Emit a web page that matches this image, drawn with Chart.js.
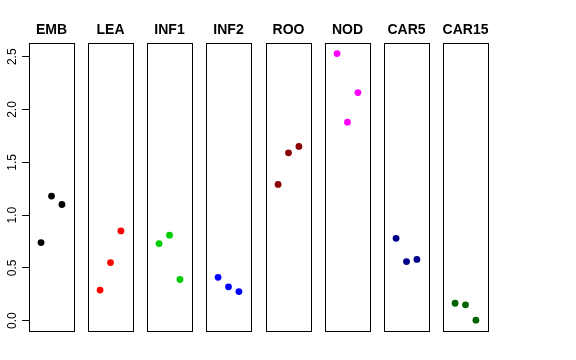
<!DOCTYPE html>
<html><head><meta charset="utf-8">
<script src="https://cdn.jsdelivr.net/npm/chart.js@4/dist/chart.umd.min.js"></script>
<style>
html,body{margin:0;padding:0;background:#fff}
#wrap{position:relative;width:576px;height:360px}
#wrap canvas{position:absolute;left:0;top:0}
</style>
</head><body><div id="wrap"></div>
<script>
// ---- data ----
const categories = ['EMB','LEA','INF1','INF2','ROO','NOD','CAR5','CAR15'];
const replicates = [1, 2, 3];
const embValues   = [0.74, 1.18, 1.10];
const leaValues   = [0.29, 0.55, 0.85];
const inf1Values  = [0.73, 0.81, 0.39];
const inf2Values  = [0.41, 0.32, 0.275];
const rooValues   = [1.29, 1.59, 1.65];
const nodValues   = [2.53, 1.88, 2.16];
const car5Values  = [0.78, 0.56, 0.58];
const car15Values = [0.165, 0.15, 0.005];
const seriesValues = [embValues, leaValues, inf1Values, inf2Values, rooValues, nodValues, car5Values, car15Values];
const yTickValues = [0, 0.5, 1, 1.5, 2, 2.5];
const yTickLabels = ['0.0', '0.5', '1.0', '1.5', '2.0', '2.5'];

// ---- styles ----
const colors = ['#000000','#FF0000','#00CD00','#0000FF','#8B0000','#FF00FF','#00008B','#006400'];
const W = 576, H = 360;
const boxTop = 43, boxBottom = 331, boxW = 45;
const firstLeft = 29, step = 59.14;
const Y_MIN = -0.098, Y_MAX = 2.63;

const decor = {
  id: 'decor',
  afterDraw(chart, args, opts) {
    const ctx = chart.ctx, a = chart.chartArea;
    ctx.save();
    ctx.strokeStyle = '#000';
    ctx.lineWidth = 1;
    ctx.strokeRect(Math.round(a.left) + 0.5, Math.round(a.top) + 0.5,
                   Math.round(a.right - a.left), Math.round(a.bottom - a.top));
    ctx.fillStyle = '#000';
    ctx.font = 'bold 14px "Liberation Sans", Arial, sans-serif';
    ctx.textAlign = 'center';
    ctx.textBaseline = 'alphabetic';
    ctx.fillText(opts.title, (a.left + a.right) / 2, 34);
    if (opts.yLabels) {
      const ys = chart.scales.y;
      ctx.font = '12px "Liberation Sans", Arial, sans-serif';
      ctx.textAlign = 'center';
      ctx.textBaseline = 'alphabetic';
      yTickValues.forEach((v, i) => {
        const py = ys.getPixelForValue(v);
        ctx.save();
        ctx.translate(16, py);
        ctx.rotate(-Math.PI / 2);
        ctx.fillText(yTickLabels[i], 0, 0);
        ctx.restore();
      });
    }
    ctx.restore();
  }
};

const wrap = document.getElementById('wrap');
categories.forEach((cat, i) => {
  const cv = document.createElement('canvas');
  cv.width = W; cv.height = H;
  cv.style.width = W + 'px'; cv.style.height = H + 'px';
  wrap.appendChild(cv);
  const left = Math.round(firstLeft + i * step);
  const right = left + boxW;
  const showAxis = i === 0;
  new Chart(cv, {
    type: 'scatter',
    data: {
      datasets: [{
        data: replicates.map((x, k) => ({ x: x, y: seriesValues[i][k] })),
        backgroundColor: colors[i],
        borderWidth: 0,
        pointRadius: 3.4,
        pointHoverRadius: 3.4
      }]
    },
    options: {
      responsive: false,
      animation: false,
      devicePixelRatio: 1,
      events: [],
      layout: { padding: { left: showAxis ? left - 7 : left, right: W - right, top: boxTop, bottom: H - boxBottom } },
      scales: {
        x: { type: 'linear', min: -0.16, max: 4.16, display: false },
        y: {
          type: 'linear', min: Y_MIN, max: Y_MAX,
          display: showAxis,
          afterBuildTicks: (s) => { s.ticks = yTickValues.map(v => ({ value: v })); },
          ticks: { display: false },
          border: { display: false },
          grid: { display: true, drawOnChartArea: false, drawTicks: true, tickLength: 7, color: '#000', lineWidth: 1 }
        }
      },
      plugins: {
        legend: { display: false },
        tooltip: { enabled: false },
        title: { display: false },
        decor: { title: cat, yLabels: showAxis }
      }
    },
    plugins: [decor]
  });
});
</script>
</body></html>
